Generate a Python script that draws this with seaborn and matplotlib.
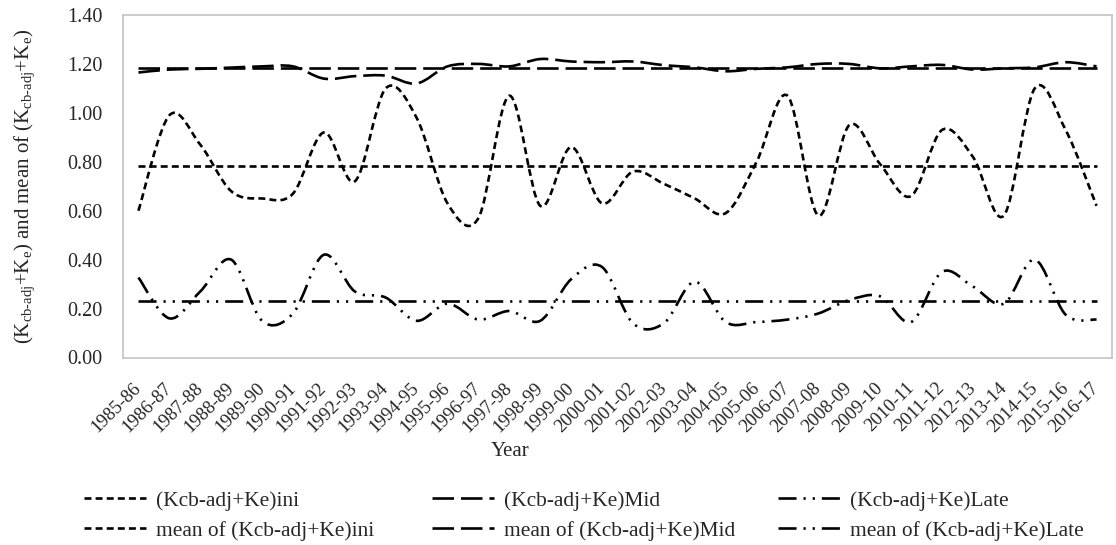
import matplotlib
matplotlib.use('Agg')
import numpy as np
import pandas as pd
import matplotlib.pyplot as plt
import seaborn as sns
from matplotlib.path import Path
from matplotlib.patches import PathPatch
from matplotlib.lines import Line2D

years=['1985-86','1986-87','1987-88','1988-89','1989-90','1990-91','1991-92','1992-93',
	'1993-94','1994-95','1995-96','1996-97','1997-98','1998-99','1999-00','2000-01',
	'2001-02','2002-03','2003-04','2004-05','2005-06','2006-07','2007-08','2008-09',
	'2009-10','2010-11','2011-12','2012-13','2013-14','2014-15','2015-16','2016-17']

kc_ini=[0.60,0.99,0.87,0.68,0.65,0.67,0.92,0.72,1.10,0.98,0.63,0.57,1.07,0.62,0.86,0.63,
	0.76,0.71,0.65,0.59,0.80,1.07,0.58,0.95,0.79,0.66,0.93,0.82,0.58,1.10,0.93,0.62]
kc_mid=[1.165,1.177,1.18,1.185,1.19,1.19,1.14,1.15,1.152,1.12,1.19,1.20,1.19,1.22,1.21,1.207,
	1.21,1.195,1.186,1.17,1.18,1.186,1.20,1.20,1.182,1.19,1.196,1.177,1.182,1.186,1.207,1.19]
kc_late=[0.327,0.16,0.27,0.40,0.15,0.18,0.42,0.27,0.245,0.15,0.22,0.155,0.19,0.15,0.32,0.37,
	0.14,0.14,0.31,0.145,0.145,0.155,0.18,0.235,0.25,0.145,0.35,0.29,0.22,0.40,0.175,0.155]

labels=['(Kcb-adj+Ke)ini','(Kcb-adj+Ke)Mid','(Kcb-adj+Ke)Late']

W,H=1116,545
LW=1.9
GRAY='#BFBFBF'
ls_ini=(0,(5,3))
ls_mid=(0,(15.5,5))
ls_late=(0,(13,5,1.6,5,1.6,5))


def smooth_path(y):
	# excel-like smoothed line, bezier segments through every point
	n=len(y)
	p=np.column_stack([np.arange(n),y]).astype(float)
	verts=[p[0]];codes=[Path.MOVETO]
	for i in range(n-1):
		p0=p[max(i-1,0)];p1=p[i];p2=p[i+1];p3=p[min(i+2,n-1)]
		verts+=[p1+(p2-p0)/6.,p2-(p3-p1)/6.,p2]
		codes+=[Path.CURVE4]*3
	return Path(verts,codes)


sns.set_style('white')
plt.rcParams['font.family']=['Liberation Serif','DejaVu Serif']
plt.rcParams['mathtext.fontset']='custom'
plt.rcParams['mathtext.rm']='Liberation Serif'
plt.rcParams['mathtext.it']='Liberation Serif:italic'
plt.rcParams['lines.scale_dashes']=False

df=pd.DataFrame({'Year':years,'ini':kc_ini,'mid':kc_mid,'late':kc_late})
df['mean_ini']=df.ini.mean()
df['mean_mid']=df.mid.mean()
df['mean_late']=df.late.mean()

fig=plt.figure(figsize=(W/100,H/100),dpi=100)
ax=fig.add_axes([123/W,1-357.5/H,(1112-123)/W,(357.5-15)/H])

styles={'ini':ls_ini,'mid':ls_mid,'late':ls_late}
for col,ls in styles.items():
	sns.lineplot(data=df,x='Year',y='mean_'+col,ax=ax,color='black',lw=LW,linestyle=ls,sort=False)
	ax.add_patch(PathPatch(smooth_path(df[col].values),fill=False,edgecolor='black',lw=LW,linestyle=ls,capstyle='butt'))

ax.set_xlim(-0.5,len(years)-0.5)
ax.set_ylim(0,1.4)
ax.set_yticks(np.arange(0,1.41,0.2))
ax.set_yticklabels(['%.2f'%v for v in np.arange(0,1.41,0.2)])
ax.set_xticks(range(len(years)))
ax.set_xticklabels(years,rotation=45,ha='right',va='center',rotation_mode='anchor')
ax.set_xticks(np.arange(-0.5,len(years),1),minor=True)
ax.tick_params(axis='x',which='major',length=0,pad=20,labelsize=13.5)
ax.tick_params(axis='x',which='minor',direction='in',length=4,color=GRAY,width=1)
ax.tick_params(axis='y',direction='out',length=6,color=GRAY,width=1,pad=9,labelsize=14.5)
for s in ax.spines.values():
	s.set_color(GRAY);s.set_linewidth(1.1)
ax.set_xlabel('');ax.set_ylabel('')

fig.text(25/W,1-186/H,r'(K$_{\mathregular{cb‐adj}}$+K$_{\mathregular{e}}$) and mean of (K$_{\mathregular{cb‐adj}}$+K$_{\mathregular{e}}$)',
	rotation=90,ha='center',va='center',fontsize=15)
fig.text(510/W,1-451/H,'Year',ha='center',va='center',fontsize=15)

# three legend columns, equally spaced like excel
col_x=[84,432,778]
for k,(col,ls) in enumerate(styles.items()):
	hs=[Line2D([],[],color='black',lw=LW,linestyle=ls),Line2D([],[],color='black',lw=LW,linestyle=ls)]
	fig.legend(hs,[labels[k],'mean of '+labels[k]],loc='upper left',bbox_to_anchor=(col_x[k]/W,1-491/H),
		frameon=False,fontsize=15.4,handlelength=2.9,handletextpad=0.45,labelspacing=0.46,borderpad=0,borderaxespad=0)

plt.savefig('out.png',dpi=100)
plt.close()
